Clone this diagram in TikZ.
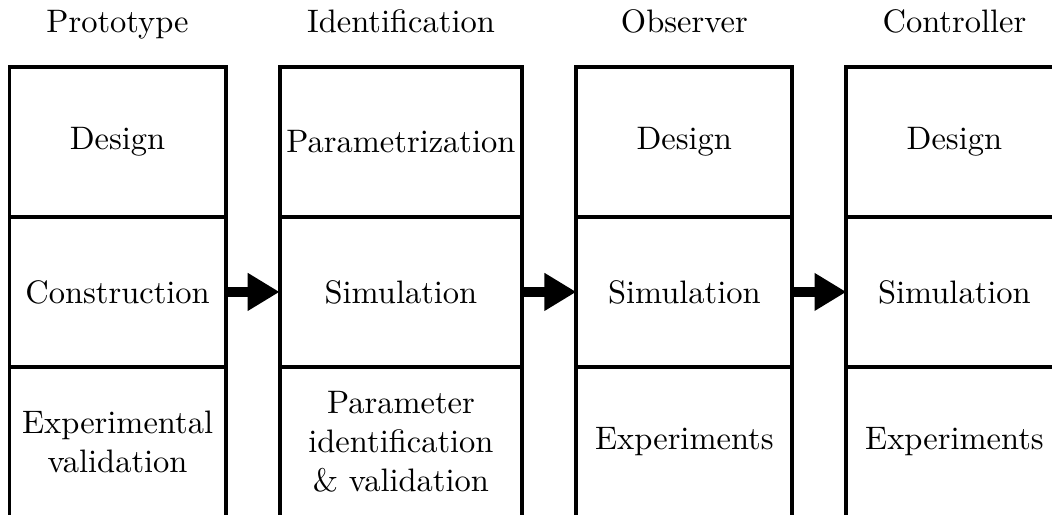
\documentclass[tikz,border=0pt]{standalone}
\usepackage{amsmath,amssymb}
\usepackage{tikz}
\usetikzlibrary{arrows.meta,positioning,calc}

\begin{document}
\begin{tikzpicture}[>=Stealth,very thick,
  cell/.style={rectangle,draw=black,fill=white,inner sep=1pt,outer sep=0pt,align=center,
    minimum width=66.5pt,minimum height=46.15pt},
  wide/.style={minimum width=74.7pt},
  title/.style={anchor=base,inner sep=0pt},
  flow/.style={line width=3.08pt,-{Triangle[length=9.8pt,width=11pt]}}]
  \useasboundingbox (0,0) rectangle (323.7pt,-158.2pt);
  \clip (0,0) rectangle (323.7pt,-158.2pt);
  % prototype
  \node[cell,anchor=north west] (p1) at (2.92pt,-20.6pt) {Design};
  \node[cell,below=0pt of p1] (p2) {Construction};
  \node[cell,below=0pt of p2] (p3) {Experimental\\validation};
  % identification
  \node[cell,wide,right=16.6pt of p1.north east,anchor=north west] (i1) {Parametrization};
  \node[cell,wide,below=0pt of i1] (i2) {Simulation};
  \node[cell,wide,below=0pt of i2] (i3) {Parameter\\identification\\\& validation};
  % observer
  \node[cell,right=16.6pt of i1.north east,anchor=north west] (o1) {Design};
  \node[cell,below=0pt of o1] (o2) {Simulation};
  \node[cell,below=0pt of o2] (o3) {Experiments};
  % controller
  \node[cell,right=16.6pt of o1.north east,anchor=north west] (c1) {Design};
  \node[cell,below=0pt of c1] (c2) {Simulation};
  \node[cell,below=0pt of c2] (c3) {Experiments};
  % titles
  \node[title] (tp) at ($(p1.north)+(0,10.5pt)$) {Prototype};
  \node[title] (ti) at ($(i1.north)+(0,10.5pt)$) {Identification};
  \node[title] (to) at ($(o1.north)+(0,10.5pt)$) {Observer};
  \node[title] (tc) at ($(c1.north)+(0,10.5pt)$) {Controller};
  \draw[flow] (p2.east)--(i2.west);
  \draw[flow] (i2.east)--(o2.west);
  \draw[flow] (o2.east)--(c2.west);
\end{tikzpicture}
\end{document}
